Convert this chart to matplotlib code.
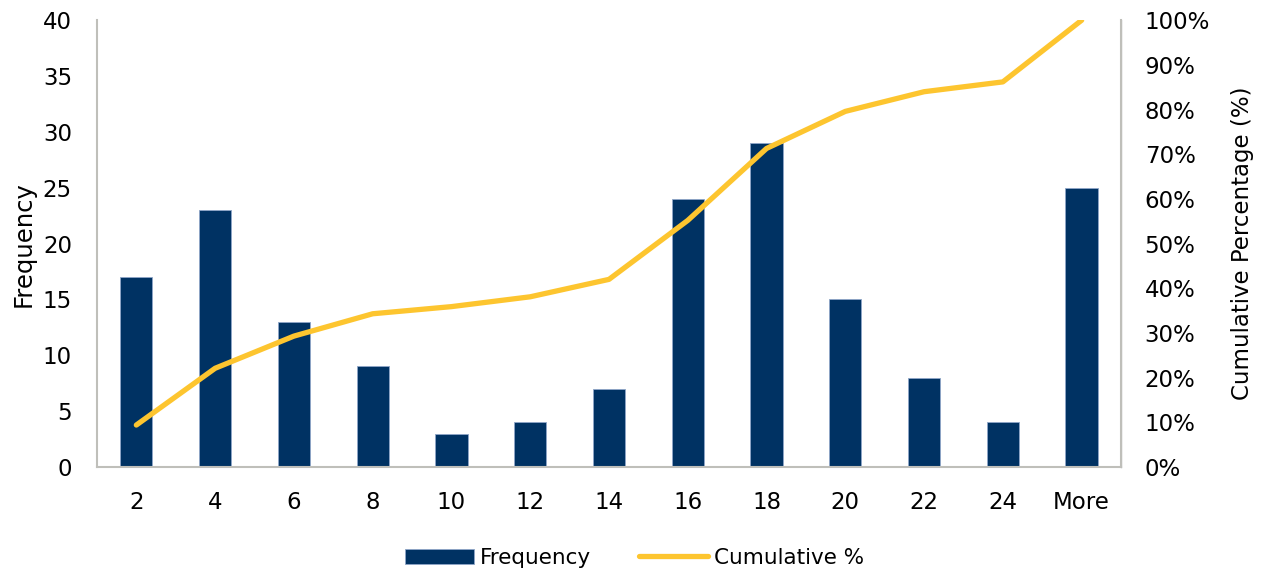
import matplotlib
matplotlib.use('Agg')
import matplotlib.pyplot as plt
from matplotlib.ticker import PercentFormatter

bins = ['2', '4', '6', '8', '10', '12', '14', '16', '18', '20', '22', '24', 'More']
frequency = [17, 23, 13, 9, 3, 4, 7, 24, 29, 15, 8, 4, 25]
cumulative_pct = [9.4, 22.1, 29.3, 34.3, 35.9, 38.1, 42.0, 55.2, 71.3, 79.6, 84.0, 86.2, 100.0]

navy = '#003263'
gold = '#FDC52F'
grey = '#BFBFBA'

plt.rcParams['font.family'] = ['DejaVu Sans']
fig = plt.figure(figsize=(12.69, 5.78), dpi=100)
ax = fig.add_axes([0.0764, 0.192, 0.807, 0.773])
ax2 = ax.twinx()

x = range(len(bins))
bars = ax.bar(x, frequency, width=0.41, color=navy, edgecolor='#8FA6C8', linewidth=0.6,
              label='Frequency', zorder=2)
line, = ax2.plot(x, cumulative_pct, color=gold, linewidth=3.8, solid_capstyle='round',
                 label='Cumulative %', zorder=3)

ax.set_xlim(-0.5, len(bins) - 0.5)
ax.set_ylim(0, 40)
ax.set_yticks(range(0, 41, 5))
ax2.set_ylim(0, 100)
ax2.set_yticks(range(0, 101, 10))
ax2.yaxis.set_major_formatter(PercentFormatter(decimals=0))
ax.set_xticks(list(x))
ax.set_xticklabels(bins)

for a in (ax, ax2):
    a.spines['top'].set_visible(False)
    a.tick_params(length=0, labelsize=16.5)
ax.spines['left'].set_color(grey)
ax.spines['bottom'].set_color(grey)
ax2.spines['right'].set_color(grey)
ax2.spines['left'].set_visible(False)
ax2.spines['bottom'].set_visible(False)
for s in ('left', 'bottom'):
    ax.spines[s].set_linewidth(1.5)
ax2.spines['right'].set_linewidth(1.5)
ax.tick_params(axis='y', pad=18)
ax.tick_params(axis='x', pad=17)
ax2.tick_params(axis='y', pad=17)

ax.set_ylabel('Frequency', fontsize=17.5, labelpad=5)
ax2.set_ylabel('Cumulative Percentage (%)', fontsize=16.5, labelpad=15)

fig.legend([bars, line], ['Frequency', 'Cumulative %'], loc='center',
           bbox_to_anchor=(0.5, 0.035), ncol=2, frameon=False, fontsize=15.5,
           handlelength=3.2, columnspacing=2.2, handletextpad=0.3)

fig.savefig('out.png', dpi=100)
